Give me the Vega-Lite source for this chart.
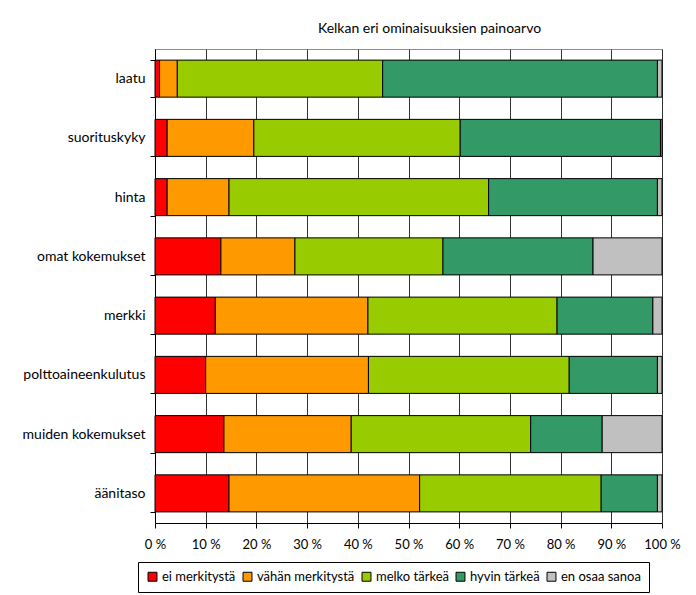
{
  "$schema": "https://vega.github.io/schema/vega-lite/v6.json",
  "autosize": {"type": "none"},
  "padding": {"left": 155, "top": 49, "right": 34, "bottom": 72},
  "width": 507,
  "height": 474,
  "background": "white",
  "title": {
    "text": "Kelkan eri ominaisuuksien painoarvo",
    "font": "Lato",
    "fontSize": 14,
    "fontWeight": "normal",
    "color": "black",
    "anchor": "middle",
    "dx": 21,
    "offset": 6
  },
  "data": {
    "values": [
      {"ominaisuus": "laatu", "vastaus": "ei merkitystä", "j": 1, "osuus": 0.9},
      {"ominaisuus": "laatu", "vastaus": "vähän merkitystä", "j": 2, "osuus": 3.5},
      {"ominaisuus": "laatu", "vastaus": "melko tärkeä", "j": 3, "osuus": 40.5},
      {"ominaisuus": "laatu", "vastaus": "hyvin tärkeä", "j": 4, "osuus": 54.2},
      {"ominaisuus": "laatu", "vastaus": "en osaa sanoa", "j": 5, "osuus": 0.9},
      {"ominaisuus": "suorituskyky", "vastaus": "ei merkitystä", "j": 1, "osuus": 2.4},
      {"ominaisuus": "suorituskyky", "vastaus": "vähän merkitystä", "j": 2, "osuus": 17.1},
      {"ominaisuus": "suorituskyky", "vastaus": "melko tärkeä", "j": 3, "osuus": 40.7},
      {"ominaisuus": "suorituskyky", "vastaus": "hyvin tärkeä", "j": 4, "osuus": 39.5},
      {"ominaisuus": "suorituskyky", "vastaus": "en osaa sanoa", "j": 5, "osuus": 0.3},
      {"ominaisuus": "hinta", "vastaus": "ei merkitystä", "j": 1, "osuus": 2.4},
      {"ominaisuus": "hinta", "vastaus": "vähän merkitystä", "j": 2, "osuus": 12.2},
      {"ominaisuus": "hinta", "vastaus": "melko tärkeä", "j": 3, "osuus": 51.2},
      {"ominaisuus": "hinta", "vastaus": "hyvin tärkeä", "j": 4, "osuus": 33.3},
      {"ominaisuus": "hinta", "vastaus": "en osaa sanoa", "j": 5, "osuus": 0.9},
      {"ominaisuus": "omat kokemukset", "vastaus": "ei merkitystä", "j": 1, "osuus": 13.0},
      {"ominaisuus": "omat kokemukset", "vastaus": "vähän merkitystä", "j": 2, "osuus": 14.6},
      {"ominaisuus": "omat kokemukset", "vastaus": "melko tärkeä", "j": 3, "osuus": 29.2},
      {"ominaisuus": "omat kokemukset", "vastaus": "hyvin tärkeä", "j": 4, "osuus": 29.6},
      {"ominaisuus": "omat kokemukset", "vastaus": "en osaa sanoa", "j": 5, "osuus": 13.6},
      {"ominaisuus": "merkki", "vastaus": "ei merkitystä", "j": 1, "osuus": 11.9},
      {"ominaisuus": "merkki", "vastaus": "vähän merkitystä", "j": 2, "osuus": 30.1},
      {"ominaisuus": "merkki", "vastaus": "melko tärkeä", "j": 3, "osuus": 37.3},
      {"ominaisuus": "merkki", "vastaus": "hyvin tärkeä", "j": 4, "osuus": 18.9},
      {"ominaisuus": "merkki", "vastaus": "en osaa sanoa", "j": 5, "osuus": 1.8},
      {"ominaisuus": "polttoaineenkulutus", "vastaus": "ei merkitystä", "j": 1, "osuus": 10.0},
      {"ominaisuus": "polttoaineenkulutus", "vastaus": "vähän merkitystä", "j": 2, "osuus": 32.1},
      {"ominaisuus": "polttoaineenkulutus", "vastaus": "melko tärkeä", "j": 3, "osuus": 39.6},
      {"ominaisuus": "polttoaineenkulutus", "vastaus": "hyvin tärkeä", "j": 4, "osuus": 17.4},
      {"ominaisuus": "polttoaineenkulutus", "vastaus": "en osaa sanoa", "j": 5, "osuus": 0.9},
      {"ominaisuus": "muiden kokemukset", "vastaus": "ei merkitystä", "j": 1, "osuus": 13.6},
      {"ominaisuus": "muiden kokemukset", "vastaus": "vähän merkitystä", "j": 2, "osuus": 25.1},
      {"ominaisuus": "muiden kokemukset", "vastaus": "melko tärkeä", "j": 3, "osuus": 35.4},
      {"ominaisuus": "muiden kokemukset", "vastaus": "hyvin tärkeä", "j": 4, "osuus": 14.1},
      {"ominaisuus": "muiden kokemukset", "vastaus": "en osaa sanoa", "j": 5, "osuus": 11.8},
      {"ominaisuus": "äänitaso", "vastaus": "ei merkitystä", "j": 1, "osuus": 14.6},
      {"ominaisuus": "äänitaso", "vastaus": "vähän merkitystä", "j": 2, "osuus": 37.6},
      {"ominaisuus": "äänitaso", "vastaus": "melko tärkeä", "j": 3, "osuus": 35.8},
      {"ominaisuus": "äänitaso", "vastaus": "hyvin tärkeä", "j": 4, "osuus": 11.1},
      {"ominaisuus": "äänitaso", "vastaus": "en osaa sanoa", "j": 5, "osuus": 0.9}
    ]
  },
  "mark": {"type": "bar", "stroke": "black", "strokeWidth": 1},
  "encoding": {
    "y": {
      "field": "ominaisuus",
      "type": "nominal",
      "sort": null,
      "title": null,
      "scale": {"paddingInner": 0.375, "paddingOuter": 0.1875},
      "axis": {
        "tickBand": "extent",
        "domainColor": "black",
        "tickColor": "black",
        "tickSize": 5,
        "labelPadding": 5,
        "labelFont": "Lato",
        "labelFontSize": 14,
        "labelColor": "black",
        "grid": false
      }
    },
    "x": {
      "field": "osuus",
      "type": "quantitative",
      "stack": "normalize",
      "title": null,
      "scale": {"domain": [0, 1], "nice": false},
      "axis": {
        "values": [0, 0.1, 0.2, 0.3, 0.4, 0.5, 0.6, 0.7, 0.8, 0.9, 1],
        "labelExpr": "round(datum.value * 100) + ' %'",
        "grid": true,
        "gridColor": "#333333",
        "gridWidth": 1,
        "domainColor": "black",
        "tickColor": "black",
        "tickSize": 5,
        "labelPadding": 10,
        "labelFont": "Lato",
        "labelFontSize": 13,
        "labelColor": "black",
        "labelFlush": false
      }
    },
    "color": {
      "field": "vastaus",
      "type": "nominal",
      "sort": ["ei merkitystä", "vähän merkitystä", "melko tärkeä", "hyvin tärkeä", "en osaa sanoa"],
      "scale": {
        "domain": ["ei merkitystä", "vähän merkitystä", "melko tärkeä", "hyvin tärkeä", "en osaa sanoa"],
        "range": ["#FF0000", "#FF9900", "#99CC00", "#339966", "#C0C0C0"]
      },
      "legend": {
        "title": null,
        "orient": "none",
        "direction": "horizontal",
        "legendX": -17,
        "legendY": 513,
        "strokeColor": "black",
        "fillColor": "white",
        "padding": 8,
        "symbolType": "square",
        "symbolSize": 80,
        "symbolStrokeColor": "black",
        "symbolStrokeWidth": 1,
        "symbolOpacity": 1,
        "labelFont": "Lato",
        "labelFontSize": 13,
        "labelColor": "black",
        "labelOffset": 3,
        "columnPadding": 5
      }
    },
    "order": {"field": "j", "type": "quantitative"}
  },
  "config": {
    "view": {"stroke": "#8c8c8c", "strokeWidth": 1}
  }
}
